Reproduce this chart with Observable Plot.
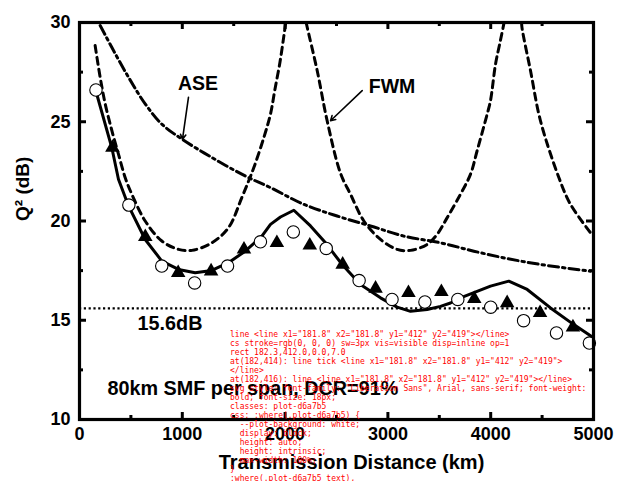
<!DOCTYPE html>
<html>
<head>
<meta charset="utf-8">
<script src="https://cdn.jsdelivr.net/npm/d3@7"></script>
<script src="https://cdn.jsdelivr.net/npm/@observablehq/plot@0.6"></script>
<style>
  html, body { margin: 0; padding: 0; background: #fff; }
</style>
</head>
<body>
<div id="chart"></div>
<pre id="dbg" style="position:absolute;left:230px;top:330px;font:8px monospace;color:red;margin:0;white-space:pre-wrap;width:360px"></pre>
<script>
const circleX = [160, 480, 800, 1120, 1440, 1760, 2080, 2400, 2720, 3040, 3360, 3680, 4000, 4320, 4640, 4960];
const circleQ = [26.6, 20.8, 17.73, 16.88, 17.73, 18.95, 19.45, 18.62, 17.0, 16.05, 15.92, 16.05, 15.66, 14.98, 14.36, 13.85];
const triX = [320, 640, 960, 1280, 1600, 1920, 2240, 2560, 2880, 3200, 3520, 3840, 4160, 4480, 4800];
const triQ = [23.7, 19.2, 17.39, 17.47, 18.57, 18.9, 18.77, 17.81, 16.6, 16.38, 16.43, 16.08, 15.87, 15.37, 14.65];
const simX = [162, 314, 379, 477, 639, 801, 963, 1125, 1287, 1449, 1612, 1774, 1858, 1955, 2085, 2247, 2393, 2555, 2733, 2928, 3090, 3220, 3382, 3512, 3609, 3706, 3998, 4176, 4355, 4582, 4808, 5000];
const simQ = [26.5, 23.7, 22.1, 20.76, 19.07, 17.98, 17.56, 17.39, 17.51, 17.9, 18.48, 19.24, 19.83, 20.2, 20.54, 19.75, 18.9, 17.81, 16.8, 16.13, 15.66, 15.45, 15.54, 15.7, 15.87, 16.13, 16.72, 16.97, 16.55, 15.62, 14.78, 14.12];
const fwm1X = [152, 201, 250, 315, 379, 444, 509, 639, 801, 963, 1093, 1287, 1449, 1579, 1644, 1696, 1793, 1858, 1900, 1950, 1990, 2006];
const fwm1Q = [28.84, 27.24, 25.9, 24.55, 23.37, 22.19, 21.35, 20.0, 18.99, 18.57, 18.52, 18.9, 19.66, 21.18, 22.0, 22.69, 24.2, 25.39, 26.6, 28.0, 29.4, 30];
const fwm2X = [2205, 2215, 2312, 2409, 2539, 2636, 2766, 2928, 3090, 3220, 3382, 3479, 3577, 3706, 3804, 3868, 3966, 3998, 4047, 4095, 4121, 4130];
const fwm2Q = [30, 29.76, 27.58, 25.05, 22.4, 21.35, 20.0, 19.07, 18.57, 18.52, 18.82, 19.33, 20.17, 21.35, 22.36, 23.54, 25.39, 26.06, 27.9, 29.1, 29.76, 30];
const fwm3X = [4300, 4306, 4387, 4484, 4663, 4776, 4980];
const fwm3Q = [30, 29.68, 27.58, 25.05, 22.19, 20.84, 19.35];
const aseX = [201, 314, 477, 639, 801, 995, 1287, 1612, 1858, 2182, 2506, 2831, 3155, 3512, 3836, 4160, 4484, 4971];
const aseQ = [29.85, 28.75, 27.24, 25.9, 24.88, 24.13, 23.2, 22.27, 21.68, 20.84, 20.25, 19.75, 19.24, 18.9, 18.48, 18.11, 17.81, 17.47];
const threshold = 15.6;
const xMajor = [0, 1000, 2000, 3000, 4000, 5000];
const xMinor = [500, 1500, 2500, 3500, 4500];
const yMajor = [10, 15, 20, 25, 30];
const yMinor = [12.5, 17.5, 22.5, 27.5];
const centerLabels = [{x: 1153, y: 26.93, text: "ASE"}, {x: 3040, y: 26.74, text: "FWM"}];
const startLabels = [{x: 565, y: 14.85, text: "15.6dB"}, {x: 272, y: 11.57, text: "80km SMF per span, DCR=91%"}];
const arrows = [{x1: 1060, y1: 26.23, x2: 1002, y2: 24.12}, {x1: 2750, y1: 26.57, x2: 2442, y2: 25.05}];

const circles = circleX.map((x, i) => ({x, y: circleQ[i]}));
const tris = triX.map((x, i) => ({x, y: triQ[i]}));
const sim = simX.map((x, i) => ({x, y: simQ[i]}));
const fwm = [
  ...fwm1X.map((x, i) => ({x, y: fwm1Q[i], s: 1})),
  ...fwm2X.map((x, i) => ({x, y: fwm2Q[i], s: 2})),
  ...fwm3X.map((x, i) => ({x, y: fwm3Q[i], s: 3}))
];
const ase = aseX.map((x, i) => ({x, y: aseQ[i]}));

const font = "'Liberation Sans', Arial, sans-serif";
const W = 626, H = 481, mL = 79, mR = 33, mT = 22, mB = 62;
const pw = W - mL - mR, ph = H - mT - mB;
const T = 7, t = 4;
const tk = {stroke: "#000", strokeWidth: 3};
const xTicks = (data, side, len) =>
  Plot.tickX(data, {x: d => d, ...(side === "bottom" ? {insetTop: ph - len} : {insetBottom: ph - len}), ...tk});
const yTicks = (data, side, len) =>
  Plot.tickY(data, {y: d => d, ...(side === "left" ? {insetRight: pw - len} : {insetLeft: pw - len}), ...tk});

const chart = Plot.plot({
  width: W, height: H, marginLeft: mL, marginRight: mR, marginTop: mT, marginBottom: mB,
  style: {fontFamily: font, fontWeight: "bold", fontSize: "18px"},
  x: {domain: [0, 5000]},
  y: {domain: [10, 30]},
  marks: [
    xTicks(xMajor, "bottom", T), xTicks(xMinor, "bottom", t),
    xTicks(xMajor, "top", T), xTicks(xMinor, "top", t),
    yTicks(yMajor, "left", T), yTicks(yMinor, "left", t),
    yTicks(yMajor, "right", T), yTicks(yMinor, "right", t),
    Plot.line(ase, {x: "x", y: "y", curve: "catmull-rom", stroke: "#000", strokeWidth: 3, strokeDasharray: "10,4,2.5,4"}),
    Plot.line(fwm, {x: "x", y: "y", z: "s", curve: "catmull-rom", stroke: "#000", strokeWidth: 3, strokeDasharray: "7,5"}),
    Plot.ruleY([threshold], {stroke: "#000", strokeWidth: 2.4, strokeDasharray: "2.2,2.6"}),
    Plot.line(sim, {x: "x", y: "y", stroke: "#000", strokeWidth: 3, strokeLinejoin: "round"}),
    Plot.dot(tris, {x: "x", y: "y", symbol: "triangle", r: 5.4, fill: "#000", stroke: "none"}),
    Plot.dot(circles, {x: "x", y: "y", r: 6.2, fill: "#fff", stroke: "#000", strokeWidth: 1.1}),
    Plot.arrow(arrows, {x1: "x1", y1: "y1", x2: "x2", y2: "y2", stroke: "#000", strokeWidth: 1.6, headLength: 5}),
    Plot.text(centerLabels, {x: "x", y: "y", text: "text", textAnchor: "middle", fontSize: 19.5, fontWeight: "bold", fill: "#000"}),
    Plot.text(startLabels, {x: "x", y: "y", text: "text", textAnchor: "start", fontSize: 19.8, fontWeight: "bold", fill: "#000"}),
    Plot.axisX(xMajor, {anchor: "bottom", tickSize: 0, tickPadding: 8, tickFormat: d3.format("d"), label: null, fill: "#000"}),
    Plot.axisY(yMajor, {anchor: "left", tickSize: 0, tickPadding: 9, tickFormat: d3.format("d"), label: null, fill: "#000"}),
    Plot.text(["Transmission Distance (km)"], {frameAnchor: "bottom", dx: 15, dy: 49, fontSize: 20, fontWeight: "bold", fill: "#000"}),
    Plot.text(["Q² (dB)"], {frameAnchor: "left", dx: -57, rotate: -90, fontSize: 19, fontWeight: "bold", fill: "#000"}),
    Plot.frame({stroke: "#000", strokeWidth: 3.2})
  ]
});
document.getElementById("chart").appendChild(chart);
const out = [];
const l = chart.querySelector("g[aria-label='tick'] line:nth-child(2)");
if (l) {
  const cs = getComputedStyle(l);
  const r = l.getBoundingClientRect();
  out.push("line " + l.outerHTML.slice(0, 80));
  out.push("cs stroke=" + cs.stroke + " sw=" + cs.strokeWidth + " vis=" + cs.visibility + " disp=" + cs.display + " op=" + cs.opacity);
  out.push("rect " + [r.x, r.y, r.width, r.height].map(v => v.toFixed(1)).join(","));
}
const e = document.elementFromPoint(182, 414);
out.push("at(182,414): " + (e ? e.tagName + " " + (e.parentNode && e.parentNode.getAttribute ? e.parentNode.getAttribute("aria-label") : "") + " " + e.outerHTML.slice(0, 80) : "none"));
const e2 = document.elementFromPoint(182, 416);
out.push("at(182,416): " + (e2 ? e2.tagName + " " + e2.outerHTML.slice(0, 80) : "none"));
out.push("svg style: " + chart.getAttribute("style"));
out.push("classes: " + chart.getAttribute("class"));
const st = chart.querySelector("style");
out.push("css: " + (st ? st.textContent.slice(0, 400) : "none"));
document.getElementById("dbg").textContent = out.join("\n");
</script>
</body>
</html>
